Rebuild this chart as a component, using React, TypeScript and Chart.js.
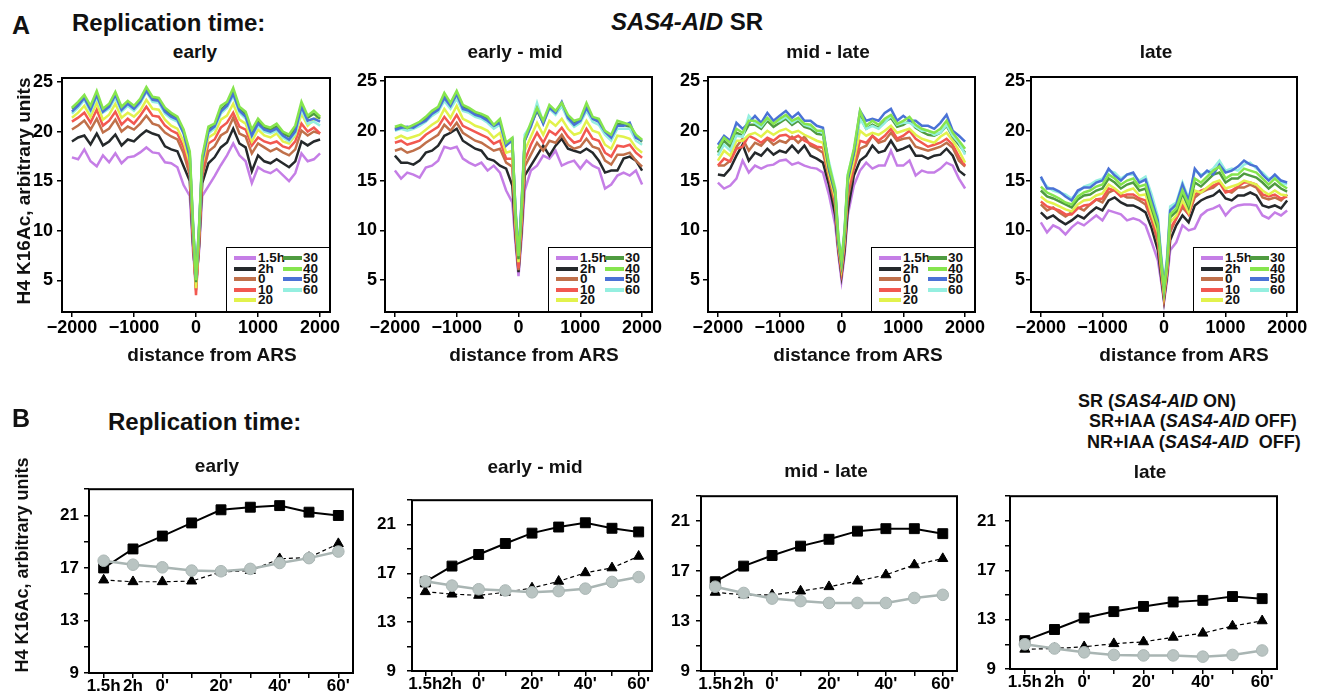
import React, { useEffect, useRef } from 'react';
import { Chart, registerables } from 'chart.js';

Chart.register(...registerables);

const FONT = "'Liberation Sans', Arial, Helvetica, sans-serif";

// ---------- Panel A: H4K16Ac profiles around ARS ----------
const DIST = [-2000, -1900, -1800, -1700, -1600, -1500, -1400, -1300, -1200, -1100, -1000, -900, -800, -700, -600, -500, -400, -300, -200, -100, -50, 0, 50, 100, 200, 300, 400, 500, 600, 700, 800, 900, 1000, 1100, 1200, 1300, 1400, 1500, 1600, 1700, 1800, 1900, 2000];
const DIST_TICKS = [-2000, -1000, 0, 1000, 2000];
const A_Y_TICKS = [5, 10, 15, 20, 25];
const SERIES_NAMES = ['1.5h', '2h', '0', '10', '20', '30', '40', '50', '60'];
const SERIES_COLORS = ['#c57ee6', '#25292b', '#c0704a', '#f25850', '#e2f24c', '#4f9b40', '#86e54e', '#4a72d6', '#95efe0'];

// early
const A_EARLY_15H = [17.4,17.2,18.2,17.0,16.5,17.6,16.9,17.8,16.8,17.4,17.5,17.9,18.4,17.9,17.8,16.9,16.8,16.4,14.6,13.5,8.0,4.6,8.0,13.5,14.5,15.5,16.6,17.6,18.8,17.6,17.0,14.8,16.4,16.0,15.8,16.2,15.6,15.0,15.8,17.8,17.0,17.2,17.8];
const A_EARLY_2H = [19.0,19.4,19.6,18.7,19.8,18.6,19.0,19.7,18.6,19.2,19.0,19.6,20.1,19.8,19.6,18.5,18.2,18.0,16.5,15.0,8.8,4.4,8.5,14.8,16.8,17.4,18.4,18.9,20.3,18.8,18.4,16.0,17.6,17.0,16.8,17.2,16.8,16.4,17.0,19.0,18.6,19.0,19.2];
const A_EARLY_0 = [20.2,20.6,21.1,20.2,21.3,19.9,20.3,21.2,20.0,20.5,20.2,20.8,21.6,20.8,20.6,19.9,19.5,19.2,17.8,15.6,9.2,4.0,8.8,15.5,18.0,18.5,19.6,20.0,21.4,19.8,19.5,17.8,18.8,18.4,18.0,18.3,17.9,17.6,18.2,20.1,19.6,20.0,19.8];
const A_EARLY_10 = [21.0,21.4,21.9,20.9,22.2,20.6,21.1,22.0,20.7,21.3,20.8,21.6,22.5,21.6,21.5,20.6,20.1,19.8,18.4,16.2,9.6,3.5,9.2,16.0,18.8,19.2,20.4,20.9,21.9,20.5,20.2,18.6,19.4,19.0,18.8,19.0,18.5,18.3,19.0,20.8,20.0,20.4,19.8];
const A_EARLY_20 = [21.4,21.9,22.6,21.5,22.9,21.2,21.7,22.8,21.4,21.9,21.5,22.1,23.2,22.3,22.2,21.2,20.6,20.3,19.0,16.8,10.2,4.2,9.8,16.6,19.4,19.8,21.2,21.6,22.8,21.2,20.8,19.0,20.2,19.6,19.4,19.8,19.0,18.8,19.6,21.8,20.6,21.2,21.6];
const A_EARLY_30 = [22.3,22.7,23.5,22.4,23.8,22.1,22.6,23.8,22.3,22.9,22.5,23.1,24.2,23.4,23.2,22.2,21.7,21.3,20.0,17.6,10.6,4.8,10.2,17.2,20.2,20.6,22.2,22.8,24.0,22.3,21.7,20.0,21.0,20.4,20.2,20.5,19.8,19.5,20.3,22.6,21.4,21.8,21.3];
const A_EARLY_40 = [22.4,23.0,23.7,22.6,24.1,22.3,22.8,24.0,22.5,23.1,22.6,23.3,24.5,23.5,23.4,22.4,21.9,21.5,20.2,18.0,11.0,5.0,10.5,17.5,20.5,20.8,22.6,23.0,24.4,22.5,22.0,20.2,21.3,20.6,20.4,20.8,20.0,19.7,20.6,23.0,21.6,22.1,21.5];
const A_EARLY_50 = [22.0,22.6,23.4,22.2,23.7,22.0,22.5,23.7,22.2,22.8,22.3,23.0,24.1,23.2,23.1,22.0,21.5,21.2,19.8,17.4,10.8,5.2,10.4,17.0,20.0,20.5,22.0,22.6,23.8,22.1,21.5,19.6,20.8,20.2,20.0,20.3,19.6,19.2,20.0,22.5,21.1,21.3,21.0];
const A_EARLY_60 = [21.8,22.4,23.2,22.0,23.5,21.9,22.3,23.4,22.0,22.6,22.1,22.8,24.0,23.0,22.9,21.8,21.3,21.0,19.9,17.8,11.2,5.3,10.8,17.3,19.8,20.3,21.8,22.4,23.6,21.9,21.3,19.5,20.6,20.0,19.8,20.1,19.4,19.0,19.8,22.2,20.8,21.0,20.6];

// early - mid
const A_EMID_15H = [16.0,15.2,15.8,15.6,15.3,16.3,16.5,17.0,18.4,18.2,18.4,17.2,16.8,16.5,16.8,16.0,16.5,15.8,14.0,12.8,8.8,5.4,9.2,14.0,16.0,16.5,17.5,17.2,18.0,16.5,16.8,17.0,16.2,17.0,16.5,16.2,14.2,14.6,15.5,15.8,15.5,16.0,14.6];
const A_EMID_2H = [17.5,16.8,16.8,16.6,17.0,17.8,18.0,18.5,19.5,19.8,20.2,19.0,18.6,18.2,18.0,17.2,17.0,16.5,16.2,14.5,9.6,5.8,10.0,15.5,16.5,17.5,18.5,17.5,18.5,19.2,18.2,18.0,17.8,18.2,17.8,17.0,15.8,16.0,16.0,17.2,17.4,17.0,16.0];
const A_EMID_0 = [18.0,18.2,17.8,18.0,18.3,18.8,19.2,19.6,20.6,20.0,20.8,19.8,19.4,19.0,18.8,18.4,18.0,18.2,16.8,16.4,10.0,6.0,10.5,16.4,17.6,18.8,18.0,19.0,18.8,19.6,18.6,18.2,18.4,19.2,18.4,18.2,17.0,16.6,17.6,17.6,17.8,17.0,16.4];
const A_EMID_10 = [18.8,19.0,18.6,18.8,19.0,19.6,20.0,20.4,21.4,20.6,21.6,20.5,20.2,19.9,19.6,19.3,18.7,19.0,17.2,17.2,10.4,6.2,11.0,17.0,18.6,19.8,18.8,20.0,19.6,20.3,19.4,18.8,19.0,20.2,19.2,19.0,17.8,17.4,18.5,18.4,18.6,17.8,17.3];
const A_EMID_20 = [19.2,19.5,19.2,19.4,19.6,20.1,20.6,21.0,22.2,21.3,22.5,21.2,20.9,20.5,20.3,20.0,19.3,19.8,17.8,18.0,11.0,6.8,11.6,18.0,19.4,20.8,19.6,21.0,20.5,21.2,20.2,19.6,19.8,21.0,20.0,19.8,18.6,18.2,19.5,19.4,19.2,18.3,17.8];
const A_EMID_30 = [20.2,20.4,20.2,20.4,20.6,21.2,21.8,22.2,23.5,22.6,23.6,22.4,22.1,21.7,21.5,21.2,20.4,20.9,18.6,19.0,11.8,7.1,12.2,19.0,20.6,22.0,20.8,22.4,21.8,22.5,21.4,20.8,21.0,22.4,21.2,21.0,19.8,19.4,20.7,20.6,20.4,19.4,18.9];
const A_EMID_40 = [20.4,20.6,20.3,20.6,20.9,21.4,22.0,22.4,23.8,22.8,24.0,22.6,22.3,21.9,21.7,21.4,20.6,21.2,18.8,19.3,12.0,7.4,12.5,19.2,20.8,22.3,21.0,22.6,22.0,22.8,21.6,21.0,21.2,22.8,21.4,21.2,20.0,19.6,21.0,20.8,20.6,19.6,19.1];
const A_EMID_50 = [20.1,20.3,20.4,20.3,20.7,21.0,21.7,22.1,23.3,22.5,23.7,22.2,22.0,21.6,21.4,21.0,20.5,20.8,18.5,19.1,12.2,7.5,12.8,19.0,20.4,22.2,20.7,22.3,21.8,22.9,21.3,20.6,21.0,22.3,21.2,20.9,19.9,19.3,20.5,20.5,20.8,19.3,19.0];
const A_EMID_60 = [20.0,20.2,20.0,20.2,20.5,20.9,21.5,21.9,23.0,22.2,23.2,22.0,21.8,21.4,21.2,20.8,20.2,20.6,18.6,19.2,12.4,7.7,13.0,19.6,20.6,22.8,20.8,22.2,21.6,22.5,21.1,20.4,20.8,22.0,20.9,20.6,19.6,19.0,20.2,20.2,20.2,19.0,18.6];

// mid - late
const A_MLATE_15H = [14.8,14.2,14.5,15.2,17.0,15.8,16.5,16.2,16.5,16.6,17.0,17.1,16.6,16.8,16.5,16.3,16.2,15.8,13.5,10.5,7.5,5.0,7.5,11.5,14.5,16.0,16.8,16.2,16.5,16.5,18.0,16.5,16.5,17.0,15.5,16.0,15.8,15.8,16.2,16.8,16.5,15.2,14.2];
const A_MLATE_2H = [15.6,15.5,16.2,17.5,18.6,17.0,17.8,17.5,18.2,17.6,18.0,17.8,18.5,17.8,18.5,17.5,17.2,16.8,14.5,11.5,8.0,5.5,8.0,12.0,15.5,17.0,17.5,18.5,17.8,18.0,19.0,18.0,18.2,18.5,17.5,17.5,17.2,17.5,17.6,18.2,17.5,16.0,15.5];
const A_MLATE_0 = [16.5,16.5,17.0,18.4,19.2,18.0,18.8,18.5,19.2,18.6,19.0,18.8,19.4,18.8,19.4,18.5,18.2,17.8,15.2,12.4,8.2,5.8,8.6,13.2,16.2,18.2,18.5,19.5,18.8,19.0,19.8,19.0,19.2,19.3,18.4,18.2,18.0,18.2,18.4,18.8,18.3,17.0,16.4];
const A_MLATE_10 = [16.5,17.2,16.9,18.2,18.4,19.5,19.2,18.8,19.3,19.0,19.5,19.6,19.2,19.5,19.0,18.7,18.4,18.3,15.4,12.8,8.3,6.0,8.8,13.8,16.5,19.0,18.8,19.5,19.0,19.5,20.2,19.2,19.5,20.0,19.2,18.8,18.4,18.6,18.8,19.2,18.6,17.4,16.5];
const A_MLATE_20 = [17.0,18.0,17.5,19.0,19.0,19.6,19.8,19.4,20.0,19.6,20.0,20.2,19.8,20.0,19.6,19.3,19.0,18.8,15.6,13.2,8.6,6.3,9.2,14.5,17.0,20.0,19.5,19.8,19.6,20.0,20.5,19.8,20.0,20.2,19.6,19.2,19.0,18.8,19.4,19.8,19.0,18.0,16.8];
const A_MLATE_30 = [17.8,19.0,18.4,19.8,19.5,20.6,20.6,20.2,21.0,20.4,20.8,21.2,20.6,21.0,20.4,20.2,19.7,19.6,16.0,13.6,8.8,6.6,9.6,15.0,17.8,21.4,20.2,20.6,20.3,20.9,21.3,20.4,20.6,21.0,20.3,19.9,19.6,19.5,19.8,20.5,19.4,18.6,17.8];
const A_MLATE_40 = [18.2,19.3,18.8,20.2,19.8,21.0,21.0,20.6,21.3,20.7,21.2,21.6,21.0,21.3,20.7,20.6,20.0,20.0,16.5,14.0,9.2,6.9,10.0,15.5,18.2,22.0,20.5,21.0,20.6,21.2,21.6,20.7,21.0,21.4,20.6,20.2,20.0,19.8,20.2,21.0,19.8,19.0,18.2];
const A_MLATE_50 = [18.6,19.5,19.0,20.8,20.2,20.8,21.5,20.8,21.8,21.0,21.5,22.0,21.3,21.8,21.0,21.0,20.5,20.3,16.2,13.8,9.0,6.8,9.8,15.2,17.8,22.0,21.0,21.2,21.0,21.8,22.2,21.0,21.5,21.0,21.0,20.5,20.5,20.2,20.8,21.6,20.0,19.5,18.9];
const A_MLATE_60 = [17.5,18.6,18.0,19.5,19.4,21.5,20.8,20.4,21.2,20.8,21.0,21.4,20.8,21.2,20.6,20.4,20.0,19.8,16.8,14.2,9.4,7.2,10.2,15.6,18.0,21.2,20.2,20.5,20.2,20.8,21.5,20.6,20.8,20.8,20.4,20.0,20.0,19.6,19.8,20.6,19.5,18.8,17.6];

// late
const A_LATE_15H = [10.8,9.8,10.5,10.2,9.6,10.3,10.8,10.5,11.0,11.5,11.0,12.0,11.8,11.6,11.0,11.2,11.0,10.5,8.8,7.0,5.0,2.8,5.0,8.0,8.8,10.5,10.0,10.2,11.5,12.0,12.2,12.5,11.5,12.2,12.5,12.6,12.6,12.5,11.5,11.2,11.8,11.5,12.0];
const A_LATE_2H = [11.8,11.2,11.5,11.0,10.6,11.0,11.5,11.2,11.8,12.3,12.0,13.0,13.3,12.8,12.5,12.5,12.2,11.8,10.2,8.0,5.5,3.0,5.5,9.0,10.5,11.5,10.8,12.5,13.0,13.3,13.5,14.0,13.2,13.0,13.5,13.5,13.8,13.5,12.5,12.3,12.5,12.2,13.0];
const A_LATE_0 = [12.6,12.0,12.3,11.8,11.4,11.8,12.3,12.0,12.6,13.1,12.8,13.8,14.1,13.6,13.3,13.3,13.0,12.6,11.0,8.8,6.0,3.4,5.8,9.8,11.2,12.3,11.6,13.3,13.8,14.1,14.3,14.8,14.0,13.8,14.3,14.3,14.6,14.3,13.3,13.1,13.3,13.0,13.6];
const A_LATE_10 = [12.9,12.4,12.2,12.0,11.6,11.6,12.2,12.5,12.6,13.1,13.2,14.2,14.0,13.4,13.6,13.6,13.2,13.0,11.2,9.2,6.3,3.3,6.0,10.2,11.2,12.6,11.6,13.6,14.0,14.2,14.5,14.8,13.8,14.0,14.4,14.8,14.8,14.6,13.6,13.4,13.6,13.2,13.4];
const A_LATE_20 = [13.4,12.9,12.7,12.4,12.1,11.9,12.6,13.0,13.1,13.5,13.7,14.6,14.2,13.7,14.0,14.2,13.5,13.6,11.6,9.8,6.6,3.6,6.2,10.8,11.5,13.0,11.8,14.0,13.8,14.3,14.8,15.0,14.2,14.4,14.6,15.0,14.8,14.6,14.0,13.6,14.0,13.6,13.5];
const A_LATE_30 = [14.0,13.4,13.2,12.9,12.6,12.3,13.1,13.5,13.6,14.0,14.2,15.2,14.8,14.2,14.6,14.8,14.0,14.2,12.2,10.2,7.0,4.0,6.6,11.3,11.9,13.7,12.3,14.8,14.4,15.0,15.6,15.8,14.8,15.2,15.2,15.7,15.5,15.3,14.8,14.2,14.7,14.2,13.9];
const A_LATE_40 = [14.4,13.8,13.5,13.2,12.8,12.6,13.4,13.8,14.0,14.4,14.6,15.6,15.2,14.6,15.0,15.2,14.4,14.6,12.5,10.6,7.2,4.2,6.8,11.6,12.2,14.0,12.6,15.2,14.8,15.4,16.0,16.4,15.2,15.6,15.6,16.2,16.0,15.8,15.2,14.6,15.2,14.6,14.2];
const A_LATE_50 = [15.4,14.2,14.2,13.9,13.4,13.0,14.0,14.3,14.3,14.8,15.0,16.2,15.5,15.0,15.6,15.8,14.8,15.1,13.0,11.0,7.5,4.4,7.0,12.0,12.6,14.6,13.0,16.2,15.4,16.0,15.6,16.6,15.8,16.0,16.4,17.0,16.6,16.4,15.6,15.0,15.6,15.0,14.8];
const A_LATE_60 = [15.2,14.4,14.0,13.8,13.6,13.2,13.8,14.4,14.6,15.0,15.2,16.0,15.8,15.2,15.6,15.6,15.0,15.4,13.6,11.4,7.8,4.6,7.4,12.4,12.8,14.8,13.2,16.0,15.6,15.8,16.2,17.0,16.0,16.2,16.0,16.6,16.8,16.2,15.8,15.2,15.4,14.8,14.6];

// ---------- Panel B: mean H4K16Ac per time point ----------
const TIMEPOINTS = ["1.5h", "2h", "0'", "10'", "20'", "30'", "40'", "50'", "60'"];
const SHOWN_TIMEPOINTS = ["1.5h", "2h", "0'", "20'", "40'", "60'"];
const B_Y_TICKS = [9, 11, 13, 15, 17, 19, 21, 23];
const B_Y_LABELED = [9, 13, 17, 21];

const B_EARLY_SR = [17.0, 18.45, 19.43, 20.43, 21.43, 21.63, 21.75, 21.25, 21.0];
const B_EARLY_SR_IAA = [17.55, 17.25, 17.05, 16.8, 16.75, 16.93, 17.38, 17.75, 18.25];
const B_EARLY_NR_IAA = [16.08, 15.95, 15.95, 16.0, 16.7, 16.8, 17.7, 17.8, 18.85];

const B_EMID_SR = [16.3, 17.6, 18.55, 19.45, 20.3, 20.8, 21.15, 20.7, 20.4];
const B_EMID_SR_IAA = [16.35, 16.0, 15.7, 15.6, 15.45, 15.55, 15.75, 16.3, 16.7];
const B_EMID_NR_IAA = [15.5, 15.3, 15.2, 15.45, 15.8, 16.35, 17.05, 17.45, 18.4];

const B_MLATE_SR = [16.15, 17.4, 18.25, 19.0, 19.55, 20.2, 20.4, 20.4, 20.0];
const B_MLATE_SR_IAA = [15.75, 15.25, 14.8, 14.6, 14.45, 14.45, 14.45, 14.85, 15.1];
const B_MLATE_NR_IAA = [15.3, 15.1, 15.1, 15.4, 15.75, 16.2, 16.7, 17.5, 18.0];

const B_LATE_SR = [11.3, 12.2, 13.13, 13.65, 14.07, 14.43, 14.56, 14.87, 14.7];
const B_LATE_SR_IAA = [11.0, 10.66, 10.35, 10.14, 10.1, 10.1, 10.0, 10.14, 10.5];
const B_LATE_NR_IAA = [10.6, 10.66, 10.8, 11.05, 11.2, 11.57, 11.9, 12.48, 12.9];

// ---------- layout ----------
const A_BOXES = [
  { L: 62, T: 78, R: 330, B: 312, pad: 4 },
  { L: 385, T: 77, R: 652, B: 312, pad: 3 },
  { L: 708, T: 77, R: 975, B: 312, pad: 3 },
  { L: 1031, T: 77, R: 1297, B: 312, pad: 1 },
];
const B_BOXES = [
  { L: 89, T: 486, R: 353, B: 673, pad: 5 },
  { L: 412, T: 491, R: 652, B: 671, pad: 11 },
  { L: 701, T: 492, R: 957, B: 671, pad: 6 },
  { L: 1010, T: 489, R: 1277, B: 669, pad: 9 },
];
const DRAW_ORDER = [8, 7, 6, 5, 4, 3, 0, 1, 2];

const framePlugin = {
  id: 'frame',
  afterDraw(chart: any) {
    const { ctx, chartArea } = chart;
    ctx.save();
    ctx.strokeStyle = '#000';
    ctx.lineWidth = 2;
    ctx.strokeRect(chartArea.left, chartArea.top, chartArea.right - chartArea.left, chartArea.bottom - chartArea.top);
    ctx.restore();
  },
};

const tickFont = (size: number) => ({ family: FONT, size, weight: 'bold' as const });
const gridOpts = { drawOnChartArea: false, drawTicks: true, tickLength: 5, color: '#000', lineWidth: 1.5 };
const setTicks = (values: number[]) => (s: any) => { s.ticks = values.map((value) => ({ value })); };

function ChartBox({ left, top, width, height, config }: any) {
  const ref = useRef<HTMLCanvasElement>(null);
  useEffect(() => {
    const chart = new Chart(ref.current as HTMLCanvasElement, config);
    return () => chart.destroy();
  }, []);
  return (
    <canvas ref={ref} width={width} height={height}
      style={{ position: 'absolute', left, top, width, height }} />
  );
}

const A_LEFT = 55, A_TOP = 15, A_RIGHT = 25, A_BOTTOM = 45;

function profileConfig(series: number[][], pad: number) {
  return {
    type: 'line',
    data: {
      datasets: series.map((ys, i) => ({
        label: SERIES_NAMES[i],
        data: ys.map((y, k) => ({ x: DIST[k], y })),
        borderColor: SERIES_COLORS[i],
        backgroundColor: SERIES_COLORS[i],
        borderWidth: 2.5,
        pointRadius: 0,
        tension: 0,
        fill: false,
        order: DRAW_ORDER[i],
      })),
    },
    options: {
      responsive: false,
      animation: false,
      devicePixelRatio: 1,
      layout: { padding: { top: A_TOP, right: A_RIGHT, left: 0, bottom: 0 } },
      plugins: { legend: { display: false }, tooltip: { enabled: false } },
      scales: {
        x: {
          type: 'linear', min: -2160, max: 2160,
          border: { display: false },
          grid: gridOpts,
          afterBuildTicks: setTicks(DIST_TICKS),
          ticks: {
            autoSkip: false, maxRotation: 0, padding: 0,
            color: '#000', font: tickFont(18),
            callback: (v: number) => (v < 0 ? '\u2212' + Math.abs(v) : String(v)),
          },
          afterFit: (s: any) => { s.height = A_BOTTOM; },
        },
        y: {
          min: 1.8, max: 25.4,
          border: { display: false },
          grid: gridOpts,
          afterBuildTicks: setTicks(A_Y_TICKS),
          ticks: { padding: pad, color: '#000', font: tickFont(18) },
          afterFit: (s: any) => { s.width = A_LEFT; },
        },
      },
    },
    plugins: [framePlugin],
  };
}

const B_LEFT = 70, B_TOP = 12, B_RIGHT = 22, B_BOTTOM = 35;

function summaryConfig(sr: number[], srIaa: number[], nrIaa: number[], pad: number) {
  return {
    type: 'line',
    data: {
      labels: TIMEPOINTS,
      datasets: [
        {
          label: 'SR+IAA (SAS4-AID OFF)', data: srIaa, order: 0,
          borderColor: '#a9b5b3', backgroundColor: '#b9c4c2', pointBorderColor: '#aab6b4',
          borderWidth: 2.5, pointStyle: 'circle', pointRadius: 5.8, pointBorderWidth: 1, tension: 0,
        },
        {
          label: 'SR (SAS4-AID ON)', data: sr, order: 1,
          borderColor: '#000', backgroundColor: '#000', borderWidth: 2,
          pointStyle: 'rect', pointRadius: 7, pointBorderWidth: 1, tension: 0,
        },
        {
          label: 'NR+IAA (SAS4-AID OFF)', data: nrIaa, order: 2,
          borderColor: '#000', backgroundColor: '#000', borderWidth: 1.2, borderDash: [4, 3],
          pointStyle: 'triangle', pointRadius: 5.8, pointBorderWidth: 1, tension: 0,
        },
      ],
    },
    options: {
      responsive: false,
      animation: false,
      devicePixelRatio: 1,
      layout: { padding: { top: B_TOP, right: B_RIGHT, left: 0, bottom: 0 } },
      plugins: { legend: { display: false }, tooltip: { enabled: false } },
      scales: {
        x: {
          type: 'category', offset: true,
          border: { display: false },
          grid: { ...gridOpts, offset: false },
          ticks: {
            autoSkip: false, maxRotation: 0, padding: -2, color: '#000', font: tickFont(17),
            callback: (_v: any, i: number) => (SHOWN_TIMEPOINTS.includes(TIMEPOINTS[i]) ? TIMEPOINTS[i] : ''),
          },
          afterFit: (s: any) => { s.height = B_BOTTOM; },
        },
        y: {
          min: 9, max: 23,
          border: { display: false },
          grid: gridOpts,
          afterBuildTicks: setTicks(B_Y_TICKS),
          ticks: {
            padding: pad, color: '#000', font: tickFont(17),
            callback: (v: number) => (B_Y_LABELED.includes(v) ? String(v) : ''),
          },
          afterFit: (s: any) => { s.width = B_LEFT; },
        },
      },
    },
    plugins: [framePlugin],
  };
}

function Txt({ x, y, size, align = 'left', children }: any) {
  const top = y - 0.8465 * size;
  const style: any = {
    position: 'absolute', top, left: x, fontSize: size, lineHeight: `${size}px`,
    fontWeight: 'bold', whiteSpace: 'pre', color: '#111',
  };
  if (align === 'center') style.transform = 'translateX(-50%)';
  return <div style={style}>{children}</div>;
}

function VTxt({ cx, cy, size, children }: any) {
  return (
    <div style={{
      position: 'absolute', left: cx, top: cy, fontSize: size, lineHeight: `${size}px`,
      fontWeight: 'bold', whiteSpace: 'pre', color: '#111',
      transform: 'translate(-50%, -50%) rotate(-90deg)',
    }}>{children}</div>
  );
}

function ProfileLegend({ R, B }: any) {
  const w = 103, h = 64;
  const left = R - 1 - w, top = B - 1 - h;
  const rows = [0, 1, 2, 3, 4];
  const item = (idx: number, col: number, row: number) => {
    const cy = 10 + row * 10.6;
    const sx = col === 0 ? 7 : 56;
    const sw = col === 0 ? 22 : 19;
    const tx = col === 0 ? 31 : 76;
    return (
      <React.Fragment key={idx}>
        <div style={{ position: 'absolute', left: sx, top: cy - 2, width: sw, height: 4, background: SERIES_COLORS[idx] }} />
        <div style={{ position: 'absolute', left: tx, top: cy - 7, fontSize: 13.5, lineHeight: '14px', fontWeight: 'bold', color: '#111' }}>
          {SERIES_NAMES[idx]}
        </div>
      </React.Fragment>
    );
  };
  return (
    <div style={{
      position: 'absolute', left, top, width: w, height: h, background: '#fff',
      borderLeft: '1.5px solid #000', borderTop: '1.5px solid #000', boxSizing: 'border-box',
    }}>
      {rows.map((r) => item(r, 0, r))}
      {[5, 6, 7, 8].map((idx, r) => item(idx, 1, r))}
    </div>
  );
}

export default function App() {
  const aSeries = [
    [A_EARLY_15H, A_EARLY_2H, A_EARLY_0, A_EARLY_10, A_EARLY_20, A_EARLY_30, A_EARLY_40, A_EARLY_50, A_EARLY_60],
    [A_EMID_15H, A_EMID_2H, A_EMID_0, A_EMID_10, A_EMID_20, A_EMID_30, A_EMID_40, A_EMID_50, A_EMID_60],
    [A_MLATE_15H, A_MLATE_2H, A_MLATE_0, A_MLATE_10, A_MLATE_20, A_MLATE_30, A_MLATE_40, A_MLATE_50, A_MLATE_60],
    [A_LATE_15H, A_LATE_2H, A_LATE_0, A_LATE_10, A_LATE_20, A_LATE_30, A_LATE_40, A_LATE_50, A_LATE_60],
  ];
  const bSeries = [
    [B_EARLY_SR, B_EARLY_SR_IAA, B_EARLY_NR_IAA],
    [B_EMID_SR, B_EMID_SR_IAA, B_EMID_NR_IAA],
    [B_MLATE_SR, B_MLATE_SR_IAA, B_MLATE_NR_IAA],
    [B_LATE_SR, B_LATE_SR_IAA, B_LATE_NR_IAA],
  ];
  const aTitles = [
    { t: 'early', x: 195 }, { t: 'early - mid', x: 515 }, { t: 'mid - late', x: 828 }, { t: 'late', x: 1156 },
  ];
  const aXTitleX = [212, 534, 858, 1184];
  const bTitles = [
    { t: 'early', x: 217, y: 472 }, { t: 'early - mid', x: 535, y: 473 },
    { t: 'mid - late', x: 826, y: 477 }, { t: 'late', x: 1150, y: 478 },
  ];

  return (
    <div style={{ position: 'absolute', left: 0, top: 0, width: 1324, height: 698, background: '#fff', fontFamily: FONT, overflow: 'hidden' }}>
      {A_BOXES.map((b, i) => (
        <ChartBox key={'a' + i}
          left={b.L - A_LEFT} top={b.T - A_TOP}
          width={b.R - b.L + A_LEFT + A_RIGHT} height={b.B - b.T + A_TOP + A_BOTTOM}
          config={profileConfig(aSeries[i], b.pad)} />
      ))}
      {B_BOXES.map((b, i) => (
        <ChartBox key={'b' + i}
          left={b.L - B_LEFT} top={b.T - B_TOP}
          width={b.R - b.L + B_LEFT + B_RIGHT} height={b.B - b.T + B_TOP + B_BOTTOM}
          config={summaryConfig(bSeries[i][0], bSeries[i][1], bSeries[i][2], b.pad)} />
      ))}
      {A_BOXES.map((b, i) => <ProfileLegend key={'lg' + i} R={b.R} B={b.B} />)}

      <Txt x={12} y={34} size={25}>A</Txt>
      <Txt x={72} y={31} size={24}>Replication time:</Txt>
      <Txt x={687} y={30} size={24} align="center"><i>SAS4-AID</i> SR</Txt>
      {aTitles.map((t, i) => <Txt key={'at' + i} x={t.x} y={58} size={19} align="center">{t.t}</Txt>)}
      {aXTitleX.map((x, i) => <Txt key={'ax' + i} x={x} y={361} size={19} align="center">distance from ARS</Txt>)}
      <VTxt cx={23} cy={191} size={19}>H4 K16Ac, arbitrary units</VTxt>

      <Txt x={12} y={427} size={25}>B</Txt>
      <Txt x={108} y={430} size={24}>Replication time:</Txt>
      {bTitles.map((t, i) => <Txt key={'bt' + i} x={t.x} y={t.y} size={19} align="center">{t.t}</Txt>)}
      <VTxt cx={22} cy={565} size={18}>H4 K16Ac, arbitrary units</VTxt>
      <Txt x={1078} y={407} size={18}>SR (<i>SAS4-AID</i> ON)</Txt>
      <Txt x={1089} y={427} size={18}>SR+IAA (<i>SAS4-AID</i> OFF)</Txt>
      <Txt x={1087} y={448} size={18}>NR+IAA (<i>SAS4-AID</i>  OFF)</Txt>
    </div>
  );
}
